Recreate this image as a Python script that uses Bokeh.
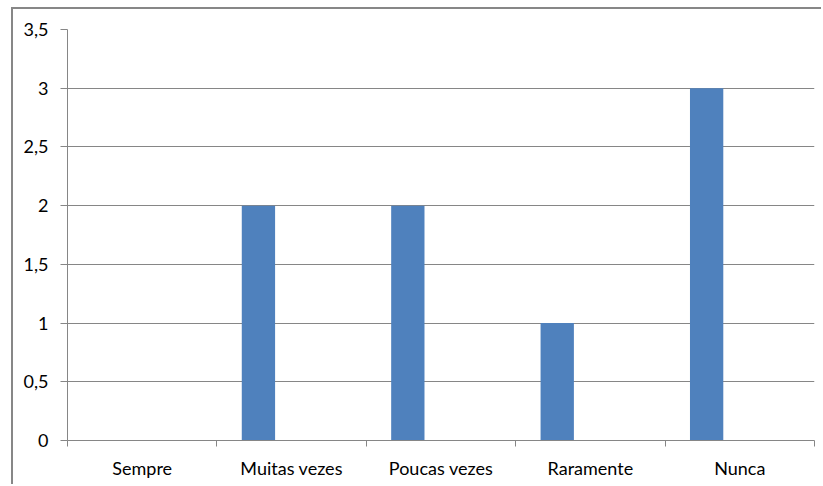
from bokeh.plotting import figure
from bokeh.models import FixedTicker, ColumnDataSource
from bokeh.embed import file_html
from bokeh.resources import INLINE

categories = ["Sempre", "Muitas vezes", "Poucas vezes", "Raramente", "Nunca"]
values = [0, 2, 2, 1, 3]
y_ticks = [0, 0.5, 1, 1.5, 2, 2.5, 3, 3.5]
y_tick_labels = ["0", "0,5", "1", "1,5", "2", "2,5", "3", "3,5"]

GREY = "#868686"
FONT = "Lato"

# bar position within each category slot (first series of a clustered column)
x_pos = [i + 0.5 - 0.222 for i in range(len(categories))]
src = ColumnDataSource(dict(x=x_pos, top=values, cat=categories))

p = figure(width=810, height=477, output_backend="svg", toolbar_location=None,
           x_range=(0, len(categories)), y_range=(0, 3.5),
           min_border_left=54, min_border_right=9, min_border_top=20,
           min_border_bottom=46)
p.styles = {"margin-left": "11px", "margin-top": "7px",
            "border-left": "2px solid #878787", "border-top": "2px solid #878787"}
p.outline_line_color = None
p.background_fill_color = "white"

p.vbar(x="x", top="top", width=0.223, bottom=0, source=src,
       fill_color="#4f81bd", line_color=None)

# x axis: labels at slot centres, tick marks at slot boundaries
xa = p.xaxis[0]
xa.ticker = FixedTicker(ticks=[i + 0.5 for i in range(len(categories))],
                        minor_ticks=list(range(len(categories) + 1)))
xa.major_label_overrides = {i + 0.5: c for i, c in enumerate(categories)}
xa.major_tick_out = 0
xa.major_tick_in = 0
xa.minor_tick_out = 6
xa.minor_tick_in = 0
xa.minor_tick_line_color = GREY
xa.axis_line_color = GREY
xa.major_label_standoff = 10
xa.major_label_text_font = FONT
xa.major_label_text_font_size = "18px"
xa.major_label_text_color = "black"

ya = p.yaxis[0]
ya.ticker = FixedTicker(ticks=y_ticks, minor_ticks=[])
ya.major_label_overrides = {t: l for t, l in zip(y_ticks, y_tick_labels)}
ya.major_tick_out = 7
ya.major_tick_in = 0
ya.major_tick_line_color = GREY
ya.axis_line_color = GREY
ya.major_label_standoff = 12
ya.major_label_text_font = FONT
ya.major_label_text_font_size = "18px"
ya.major_label_text_color = "black"

p.xgrid.grid_line_color = None
p.ygrid.grid_line_color = GREY
p.ygrid.grid_line_width = 1

open("out.html", "w").write(file_html(p, INLINE))
